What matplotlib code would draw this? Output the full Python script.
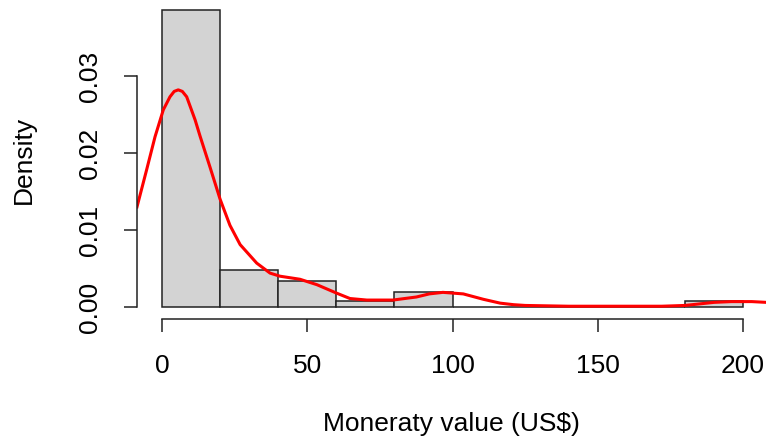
import numpy as np
import matplotlib.pyplot as plt

plt.rcParams['font.family'] = ['Liberation Sans', 'DejaVu Sans']

# histogram bins (US$) and density heights
bin_edges = [0, 20, 40, 60, 80, 100, 120, 140, 160, 180, 200]
bin_density = [0.0386, 0.00476, 0.0034, 0.00078, 0.00199, 0, 0, 0, 0, 0.0008]

# kernel density curve
kde_x = [-8.6, -5.3, -2.4, 0.45, 2.75, 4.2, 5.6, 7.0, 8.5, 11.4, 13.1, 16.5, 20,
         23.4, 26.9, 32.6, 37.2, 40.6, 47.5, 53.3, 60.1, 64.7, 70.5, 79.5, 87.6,
         92, 96.7, 103.7, 110.6, 116.4, 121, 125, 140, 160, 172, 180, 185, 190,
         196, 203, 208]
kde_y = [0.0130, 0.0178, 0.0221, 0.0256, 0.0273, 0.0280, 0.0282, 0.0280, 0.0273,
         0.0243, 0.0222, 0.0182, 0.0140, 0.0106, 0.0081, 0.0057, 0.0044, 0.0040,
         0.0036, 0.0029, 0.0018, 0.0011, 0.0009, 0.0009, 0.0013, 0.0017, 0.0019,
         0.0017, 0.0010, 0.0005, 0.0003, 0.0002, 0.0001, 0.0001, 0.0001, 0.0002,
         0.0004, 0.0006, 0.0007, 0.0007, 0.0006]

W, H = 766, 437
fig = plt.figure(figsize=(W / 100, H / 100), dpi=100, facecolor='white')
ax = fig.add_axes((137 / W, 1 - 319 / H, 629 / W, 319 / H))

widths = np.diff(bin_edges)
ax.bar(bin_edges[:-1], bin_density, width=widths, align='edge',
       color='#d3d3d3', edgecolor='#222222', linewidth=1.1)
ax.plot(kde_x, kde_y, color='#ff0000', lw=2.2, solid_joinstyle='round')

ax.set_xlim(-8.6, 207.9)
ax.set_ylim(-0.00156, 0.03987)

for s in ['top', 'right']:
    ax.spines[s].set_visible(False)
ax.spines['left'].set_bounds(0, 0.03)
ax.spines['bottom'].set_bounds(0, 200)
for s in ['left', 'bottom']:
    ax.spines[s].set_linewidth(1.1)
    ax.spines[s].set_color('#222222')

ax.set_xticks([0, 50, 100, 150, 200])
ax.set_yticks([0, 0.01, 0.02, 0.03])
ax.set_yticklabels(['0.00', '0.01', '0.02', '0.03'], rotation=90, va='center')
ax.tick_params(axis='both', length=9.5, width=1.1, color='#222222', labelsize=19)
ax.tick_params(axis='x', pad=16)
ax.tick_params(axis='y', pad=16)

ax.set_xlabel('Moneraty value (US$)', fontsize=19, labelpad=24)
ax.set_ylabel('Density', fontsize=19, labelpad=30)

fig.savefig('out.png', dpi=100, facecolor='white')
